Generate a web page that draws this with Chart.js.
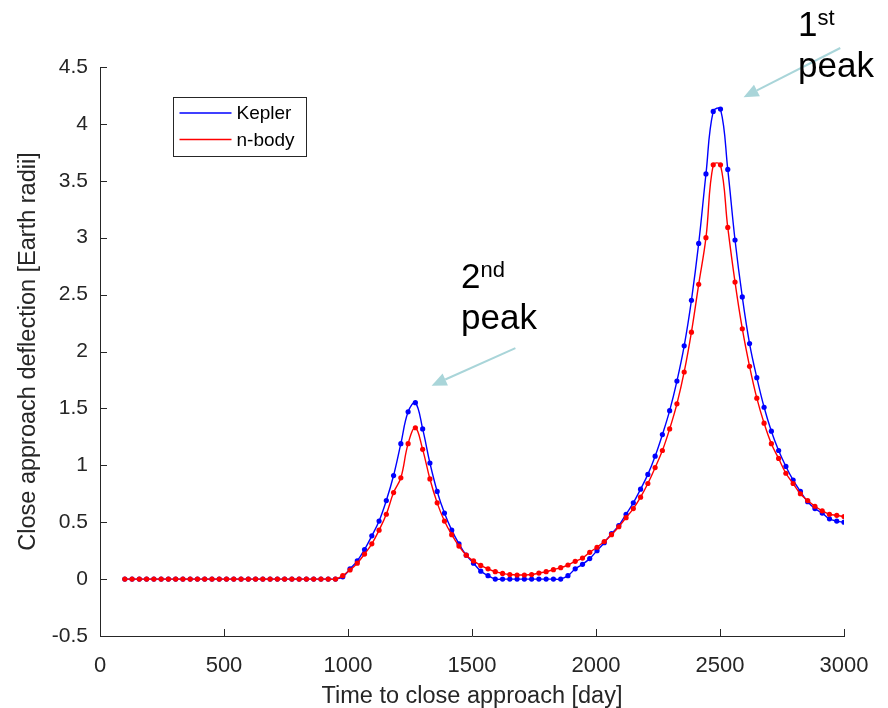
<!DOCTYPE html>
<html>
<head>
<meta charset="utf-8">
<script src="https://cdn.jsdelivr.net/npm/chart.js@4.4.0/dist/chart.umd.min.js"></script>
<style>
  html, body { margin: 0; padding: 0; background: #fff; }
  canvas { display: block; }
</style>
</head>
<body>
<canvas id="chart" width="888" height="708"></canvas>
<script>
// time to close approach [day], one marker each
const days = [
  100, 129.3, 158.6, 187.9, 217.2, 246.5, 275.8, 305.1, 334.3, 363.6,
  392.9, 422.2, 451.5, 480.8, 510.1, 539.4, 568.7, 598, 627.3, 656.6,
  685.9, 715.2, 744.4, 773.7, 803, 832.3, 861.6, 890.9, 920.2, 949.5,
  978.8, 1008.1, 1037.4, 1066.7, 1096, 1125.3, 1154.5, 1183.8, 1213.1, 1242.4,
  1271.7, 1301, 1330.3, 1359.6, 1388.9, 1418.2, 1447.5, 1476.8, 1506.1, 1535.4,
  1564.6, 1593.9, 1623.2, 1652.5, 1681.8, 1711.1, 1740.4, 1769.7, 1799, 1828.3,
  1857.6, 1886.9, 1916.2, 1945.5, 1974.7, 2004, 2033.3, 2062.6, 2091.9, 2121.2,
  2150.5, 2179.8, 2209.1, 2238.4, 2267.7, 2297, 2326.3, 2355.6, 2384.8, 2414.1,
  2443.4, 2472.7, 2502, 2531.3, 2560.6, 2589.9, 2619.2, 2648.5, 2677.8, 2707.1,
  2736.4, 2765.7, 2794.9, 2824.2, 2853.5, 2882.8, 2912.1, 2941.4, 2970.7, 3000
];

// close approach deflection [Earth radii]
const kepler = [
  0, 0, 0, 0, 0, 0, 0, 0, 0, 0,
  0, 0, 0, 0, 0, 0, 0, 0, 0, 0,
  0, 0, 0, 0, 0, 0, 0, 0, 0, 0,
  0.02, 0.09, 0.16, 0.26, 0.38, 0.51, 0.69, 0.91, 1.19, 1.47,
  1.55, 1.32, 1.02, 0.77, 0.58, 0.43, 0.31, 0.21, 0.14, 0.07,
  0.03, 0, 0, 0, 0, 0, 0, 0, 0, 0,
  0, 0.03, 0.09, 0.13, 0.18, 0.25, 0.32, 0.40, 0.47, 0.57,
  0.67, 0.79, 0.92, 1.08, 1.27, 1.48, 1.74, 2.05, 2.45, 2.95,
  3.56, 4.11, 4.13, 3.60, 2.98, 2.48, 2.07, 1.77, 1.51, 1.30,
  1.13, 0.99, 0.87, 0.77, 0.68, 0.62, 0.58, 0.53, 0.51, 0.50
];

const nbody = [
  0, 0, 0, 0, 0, 0, 0, 0, 0, 0,
  0, 0, 0, 0, 0, 0, 0, 0, 0, 0,
  0, 0, 0, 0, 0, 0, 0, 0, 0, 0,
  0.03, 0.08, 0.14, 0.22, 0.31, 0.43, 0.57, 0.76, 0.89, 1.19,
  1.33, 1.14, 0.88, 0.67, 0.51, 0.39, 0.29, 0.21, 0.16, 0.12,
  0.09, 0.065, 0.05, 0.04, 0.036, 0.036, 0.04, 0.053, 0.065, 0.083,
  0.10, 0.124, 0.156, 0.185, 0.235, 0.28, 0.33, 0.39, 0.46, 0.54,
  0.62, 0.72, 0.84, 0.98, 1.13, 1.32, 1.54, 1.82, 2.17, 2.59,
  3.00, 3.64, 3.64, 3.09, 2.61, 2.20, 1.87, 1.59, 1.37, 1.19,
  1.06, 0.93, 0.84, 0.75, 0.69, 0.64, 0.60, 0.57, 0.56, 0.55
];

const x_ticks = [0, 500, 1000, 1500, 2000, 2500, 3000];
const y_ticks = [-0.5, 0, 0.5, 1, 1.5, 2, 2.5, 3, 3.5, 4, 4.5];

const series_names = ["Kepler", "n-body"];
const series_colors = ["#0000ff", "#ff0000"];

const FONT = "'Liberation Sans', Arial, Helvetica, sans-serif";
const AXIS_COLOR = "#262626";
const ARROW_COLOR = "#a9d5d9";

function toPoints(values) {
  return values.map((v, i) => ({ x: days[i], y: v }));
}

// matlab style ticks pointing into the axes
const inwardTicks = {
  id: "inwardTicks",
  afterDraw(chart) {
    const ctx = chart.ctx;
    const xs = chart.scales.x;
    const ys = chart.scales.y;
    const area = chart.chartArea;
    ctx.save();
    ctx.strokeStyle = AXIS_COLOR;
    ctx.lineWidth = 1;
    ctx.beginPath();
    for (const v of y_ticks) {
      const py = Math.round(ys.getPixelForValue(v)) + 0.5;
      ctx.moveTo(area.left, py);
      ctx.lineTo(area.left + 7, py);
    }
    for (const v of x_ticks) {
      const px = Math.round(xs.getPixelForValue(v)) + 0.5;
      ctx.moveTo(px, area.bottom);
      ctx.lineTo(px, area.bottom - 7);
    }
    ctx.stroke();
    ctx.restore();
  },
};

const boxLegend = {
  id: "boxLegend",
  afterDraw(chart) {
    const ctx = chart.ctx;
    const area = chart.chartArea;
    const left = Math.round(area.left + 73) + 0.5;
    const top = Math.round(area.top + 30) + 0.5;
    ctx.save();
    ctx.fillStyle = "#fff";
    ctx.fillRect(left, top, 133, 59);
    ctx.strokeStyle = AXIS_COLOR;
    ctx.lineWidth = 1;
    ctx.strokeRect(left, top, 133, 59);
    ctx.font = "19px " + FONT;
    ctx.textBaseline = "middle";
    series_names.forEach((name, i) => {
      const y = top + 15.5 + i * 26.5;
      ctx.strokeStyle = series_colors[i];
      ctx.lineWidth = 1.5;
      ctx.beginPath();
      ctx.moveTo(left + 6, y);
      ctx.lineTo(left + 58, y);
      ctx.stroke();
      ctx.fillStyle = "#000";
      ctx.fillText(name, left + 63, y + 1);
    });
    ctx.restore();
  },
};

function drawArrow(ctx, x0, y0, x1, y1) {
  const ang = Math.atan2(y1 - y0, x1 - x0);
  const len = 15, half = 6.5;
  const bx = x1 - len * Math.cos(ang);
  const by = y1 - len * Math.sin(ang);
  ctx.beginPath();
  ctx.moveTo(x0, y0);
  ctx.lineTo(bx, by);
  ctx.stroke();
  ctx.beginPath();
  ctx.moveTo(x1, y1);
  ctx.lineTo(bx + half * Math.sin(ang), by - half * Math.cos(ang));
  ctx.lineTo(bx - half * Math.sin(ang), by + half * Math.cos(ang));
  ctx.closePath();
  ctx.fill();
}

function drawPeakLabel(ctx, x, y, num, sup) {
  ctx.font = "35px " + FONT;
  ctx.fillText(num, x, y);
  const w = ctx.measureText(num).width;
  ctx.font = "22px " + FONT;
  ctx.fillText(sup, x + w, y - 11);
  ctx.font = "35px " + FONT;
  ctx.fillText("peak", x, y + 41);
}

const peakNotes = {
  id: "peakNotes",
  afterDraw(chart) {
    const ctx = chart.ctx;
    const xs = chart.scales.x;
    const ys = chart.scales.y;
    const px = (v) => xs.getPixelForValue(v);
    const py = (v) => ys.getPixelForValue(v);
    ctx.save();
    ctx.strokeStyle = ARROW_COLOR;
    ctx.fillStyle = ARROW_COLOR;
    ctx.lineWidth = 2;
    drawArrow(ctx, px(2985), py(4.667), px(2595), py(4.234));
    drawArrow(ctx, px(1675), py(2.03), px(1337), py(1.70));
    ctx.fillStyle = "#000";
    ctx.textBaseline = "alphabetic";
    drawPeakLabel(ctx, px(1456), py(2.558), "2", "nd");
    drawPeakLabel(ctx, px(2815), py(4.772), "1", "st");
    ctx.restore();
  },
};

const data = {
  datasets: [
    {
      label: series_names[0],
      data: toPoints(kepler),
      borderColor: series_colors[0],
      backgroundColor: series_colors[0],
      borderWidth: 1.4,
      pointRadius: 2.6,
      pointBorderWidth: 0,
      tension: 0.4,
      order: 1,
    },
    {
      label: series_names[1],
      data: toPoints(nbody),
      borderColor: series_colors[1],
      backgroundColor: series_colors[1],
      borderWidth: 1.4,
      pointRadius: 2.6,
      pointBorderWidth: 0,
      tension: 0.4,
      order: 0,
    },
  ],
};

const config = {
  type: "line",
  data: data,
  options: {
    responsive: false,
    animation: false,
    devicePixelRatio: 1,
    layout: { padding: { left: 0, top: 67, right: 44, bottom: 0 } },
    plugins: {
      legend: { display: false },
      tooltip: { enabled: false },
    },
    scales: {
      x: {
        type: "linear",
        min: 0,
        max: 3000,
        afterBuildTicks: (s) => { s.ticks = x_ticks.map((v) => ({ value: v })); },
        afterFit: (s) => { s.height = 72; },
        grid: { display: false, drawTicks: false },
        border: { display: true, color: AXIS_COLOR, width: 1 },
        ticks: {
          color: AXIS_COLOR,
          font: { family: FONT, size: 22 },
          padding: 17,
          maxRotation: 0,
          callback: (v) => String(v),
        },
        title: {
          display: true,
          text: "Time to close approach [day]",
          color: AXIS_COLOR,
          font: { family: FONT, size: 23.5, lineHeight: 1 },
          padding: { top: 0, bottom: 0 },
        },
      },
      y: {
        type: "linear",
        min: -0.5,
        max: 4.5,
        afterBuildTicks: (s) => { s.ticks = y_ticks.map((v) => ({ value: v })); },
        afterFit: (s) => { s.width = 100; },
        grid: { display: false, drawTicks: false },
        border: { display: true, color: AXIS_COLOR, width: 1 },
        ticks: {
          color: AXIS_COLOR,
          font: { family: FONT, size: 21 },
          padding: 12,
          callback: (v) => String(v),
        },
        title: {
          display: true,
          text: "Close approach deflection [Earth radii]",
          color: AXIS_COLOR,
          font: { family: FONT, size: 23.5, lineHeight: 1.2 },
          padding: { top: 14, bottom: 0 },
        },
      },
    },
  },
  plugins: [inwardTicks, boxLegend, peakNotes],
};

function main() {
  new Chart(document.getElementById("chart"), config);
}

document.addEventListener("DOMContentLoaded", main, false);
</script>
</body>
</html>
